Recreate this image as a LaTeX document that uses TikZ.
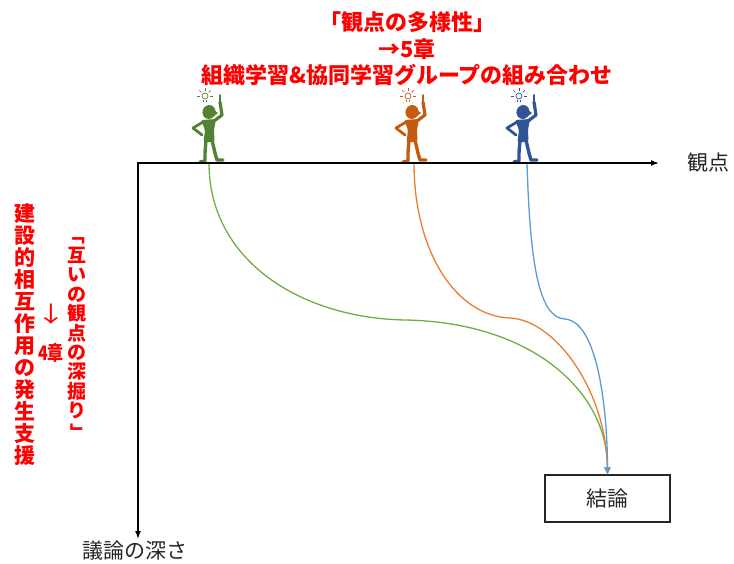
\documentclass[tikz,border=0pt]{standalone}
\usepackage{fontspec}
\setmainfont{Noto Sans CJK JP}
\usetikzlibrary{arrows.meta}

\definecolor{txtgray}{RGB}{38,38,38}
\definecolor{lngreen}{RGB}{112,173,71}
\definecolor{lnorange}{RGB}{237,125,49}
\definecolor{lnblue}{RGB}{91,155,213}
\definecolor{figgreen}{RGB}{84,130,53}
\definecolor{figorange}{RGB}{197,90,17}
\definecolor{figblue}{RGB}{47,85,151}

% rotated brackets for the vertical column
\newcommand{\vopen}{\rotatebox[origin=c]{-90}{「}}
\newcommand{\vclose}{\rotatebox[origin=c]{-90}{」}}

\begin{document}
\begin{tikzpicture}[x=1pt, y=-1pt,
        axis/.style={line width=1.5pt, line join=miter, {Latex[length=8pt,width=6pt]}-{Latex[length=8pt,width=6pt]}},
        flow/.style={line width=1.3pt, -{Triangle[length=7pt,width=6pt]}},
        redtext/.style={text=red, font=\bfseries\fontsize{#1}{#1}\selectfont, align=center, inner sep=0pt},
        plain/.style={text=txtgray, font=\fontsize{21}{25}\selectfont, inner sep=0pt}]
    \useasboundingbox (0,0) rectangle (734,563);

    % axes
    \coordinate (origin) at (138,163);
    \coordinate (xend) at (659,163);
    \coordinate (yend) at (138,539);
    \node[plain] (kanten) at (708,163) {観点};
    \node[plain] (fukasa) at (135,551) {議論の深さ};

    % texts in red
    \node[redtext=22, font=\bfseries\fontsize{22}{26.5}\selectfont] (title) at (407,49)
        {「観点の多様性」\\→5章\\組織学習\&協同学習グループの組み合わせ};
    \node[redtext=21, font=\bfseries\fontsize{21}{22}\selectfont] (shien) at (25,335)
        {建\\設\\的\\相\\互\\作\\用\\の\\発\\生\\支\\援};
    \node[redtext=22, font=\fontsize{22}{22}\selectfont, xscale=1.35] (down) at (51,314) {↓};
    \node[redtext=20, xscale=0.8] (chap) at (51,353) {4章};
    \node[redtext=19, font=\bfseries\fontsize{19}{19.4}\selectfont] (fukabori) at (77,334)
        {\vopen\\互\\い\\の\\観\\点\\の\\深\\掘\\り\\\vclose};

    % conclusion box
    \node[draw=txtgray, line width=1.2pt, minimum width=125pt, minimum height=47pt,
          inner sep=0pt, font=\fontsize{21}{25}\selectfont, text=txtgray] (ketsuron) at (607.5,498.5) {結論};

    % thinkers on the axis
    \foreach \cx/\fc in {209/figgreen, 412/figorange, 523/figblue} {
        \begin{scope}[shift={(\cx,163)}, fill=\fc, draw=\fc]
            \draw[line width=0.7pt] (-4,-67) circle (3);
            \draw[line width=0.7pt] (-5.5,-63.5) -- (-5.5,-61.5) (-2.5,-63.5) -- (-2.5,-61.5);
            \foreach \a in {180,225,270,315,360}
                \draw[line width=0.7pt] ([shift={(\a:5)}]-4,-67) -- ([shift={(\a:8)}]-4,-67);
            \fill[rotate around={-20:(0,-51)}] (0,-51) ellipse [x radius=6.5, y radius=7];
            \fill (5,-53) -- (9,-50) -- (5,-47) -- cycle;
            \fill[rounded corners=1.5pt] (-8,-43) -- (7,-44) -- (5,-33) -- (5.5,-21)
                -- (-5.5,-21) -- (-4,-33) -- cycle;
            \draw[line width=3.2pt, line cap=round, line join=round] (5,-42) -- (13,-48) -- (11,-61);
            \draw[line width=1.8pt, line cap=round] (11,-61) -- (11,-68);
            \draw[line width=2.8pt, line cap=round, line join=round] (-6,-41) -- (-16,-35) -- (-7,-28);
            \draw[line width=3.4pt, line cap=round, line join=round] (-3,-23) -- (-4,-10) -- (-4,-2) -- (-9,-1);
            \draw[line width=3.4pt, line cap=round, line join=round] (3,-23) -- (6,-10) -- (8,-3) -- (14,-3);
        \end{scope}
    }

    % paths down to the conclusion
    \coordinate (startG) at (209,163);
    \coordinate (startO) at (414,163);
    \coordinate (startB) at (527,163);
    \draw[flow, lngreen] (startG) .. controls (209,260) and (300,318) .. (405,320)
        .. controls (530,322) and (607.5,390) .. (ketsuron.north);
    \draw[flow, lnorange] (startO) .. controls (414,250) and (455,316) .. (510,318)
        .. controls (555,320) and (606,390) .. (ketsuron.north);
    \draw[flow, lnblue] (startB) .. controls (530,260) and (538,318) .. (565,319)
        .. controls (600,322) and (607.5,420) .. (ketsuron.north);

    \draw[axis] (xend) -- (origin) -- (yend);
\end{tikzpicture}
\end{document}
